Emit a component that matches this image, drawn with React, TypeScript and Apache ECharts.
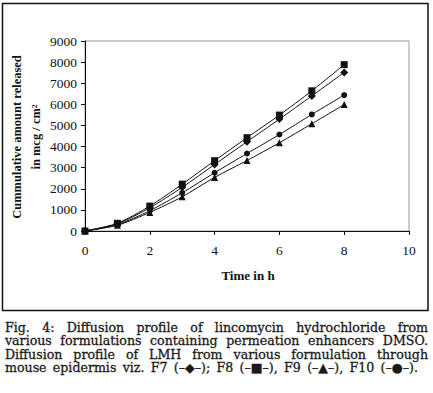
import React, { useEffect, useRef } from "react";
import * as echarts from "echarts";

const hours = [0, 1, 2, 3, 4, 5, 6, 7, 8];
const f7 = [0, 340, 1100, 2070, 3150, 4230, 5300, 6400, 7510];
const f8 = [0, 365, 1180, 2220, 3330, 4420, 5490, 6640, 7880];
const f9 = [0, 270, 880, 1620, 2540, 3340, 4180, 5080, 5990];
const f10 = [0, 300, 960, 1810, 2760, 3670, 4570, 5520, 6440];

const captionLines = [
  "Fig. 4: Diffusion profile of lincomycin hydrochloride from",
  "various formulations containing permeation enhancers DMSO.",
  "Diffusion profile of LMH from various formulation through",
  "mouse epidermis viz. F7 (\u2013\u25c6\u2013); F8 (\u2013\u25a0\u2013), F9 (\u2013\u25b2\u2013), F10 (\u2013\u25cf\u2013).",
];

const CAP_FONT = '"DejaVu Serif"';
const CAP_SIZE = 12.6;

function buildCaption(): any[] {
  const canvas = document.createElement("canvas");
  const ctx = canvas.getContext("2d")!;
  const out: any[] = [];
  const left = 5;
  const ys = [327, 340.5, 354, 367.5];
  const rights = [428, 428, 428, 418];
  captionLines.forEach((line, i) => {
    const words = line.split(" ");
    let size = CAP_SIZE;
    ctx.font = `${size}px ${CAP_FONT}`;
    let widths = words.map((w) => ctx.measureText(w).width);
    let total = widths.reduce((a, b) => a + b, 0);
    const avail = rights[i] - left;
    const minGap = 3;
    if (total + minGap * (words.length - 1) > avail) {
      size = (size * (avail - minGap * (words.length - 1))) / total;
      ctx.font = `${size}px ${CAP_FONT}`;
      widths = words.map((w) => ctx.measureText(w).width);
      total = widths.reduce((a, b) => a + b, 0);
    }
    const gap = (avail - total) / (words.length - 1);
    let x = left;
    words.forEach((w, j) => {
      out.push({
        type: "text",
        x,
        y: ys[i],
        style: {
          text: w,
          fontFamily: CAP_FONT,
          fontSize: size,
          fill: "#1a1a1a",
          stroke: "#1a1a1a",
          lineWidth: 0.3,
          textVerticalAlign: "middle",
          textAlign: "left",
        },
      });
      x += widths[j] + gap;
    });
  });
  return out;
}

function mk(name: string, data: number[], symbol: string, size: number) {
  return {
    name,
    type: "line",
    data: hours.map((h, i) => [h, data[i]]),
    smooth: 0.25,
    symbol,
    symbolSize: size,
    lineStyle: { color: "#111", width: 1 },
    itemStyle: { color: "#111" },
  };
}

export default function App() {
  const ref = useRef<HTMLDivElement>(null);
  useEffect(() => {
    document.body.style.margin = "0";
    const chart = echarts.init(ref.current!, null, { renderer: "svg" });
    const axisFont = { fontFamily: '"Liberation Serif"', fontSize: 13.5, color: "#111" };
    const titleStyle = {
      fontFamily: '"Liberation Serif"',
      fontWeight: "bold",
      fontSize: 12.5,
      fill: "#111",
      textAlign: "center",
      textVerticalAlign: "middle",
    };
    chart.setOption({
      animation: false,
      backgroundColor: "#fff",
      grid: {
        left: 85,
        right: 24,
        top: 41,
        bottom: 162,
        show: true,
        borderColor: "#999",
        borderWidth: 1,
      },
      xAxis: {
        type: "value",
        min: 0,
        max: 10,
        interval: 2,
        axisLine: { lineStyle: { color: "#111", width: 1 } },
        axisTick: { show: true, length: 4, lineStyle: { color: "#111" } },
        splitLine: { show: false },
        axisLabel: { ...axisFont, margin: 12, formatter: (v: number) => String(v) },
      },
      yAxis: {
        type: "value",
        min: 0,
        max: 9000,
        interval: 1000,
        axisLine: { show: true, lineStyle: { color: "#111", width: 1 } },
        axisTick: { show: true, length: 4, lineStyle: { color: "#111" } },
        splitLine: { show: false },
        axisLabel: { ...axisFont, margin: 8, formatter: (v: number) => String(v) },
      },
      series: [
        mk("F7", f7, "diamond", 8),
        mk("F8", f8, "rect", 7),
        mk("F9", f9, "triangle", 7),
        mk("F10", f10, "circle", 6),
      ],
      graphic: [
        {
          type: "rect",
          shape: { x: 2.5, y: 3.5, width: 425.5, height: 307 },
          style: { fill: "none", stroke: "#111", lineWidth: 1.5 },
          silent: true,
        },
        {
          type: "text",
          x: 17,
          y: 137,
          rotation: Math.PI / 2,
          style: { ...titleStyle, text: "Cummulative amount released" },
        },
        {
          type: "text",
          x: 36,
          y: 137,
          rotation: Math.PI / 2,
          style: { ...titleStyle, text: "in mcg / cm\u00b2" },
        },
        {
          type: "text",
          x: 248,
          y: 275,
          style: { ...titleStyle, fontSize: 13, text: "Time in h" },
        },
        ...buildCaption(),
      ],
    });
    return () => chart.dispose();
  }, []);
  return <div ref={ref} style={{ width: 433, height: 393 }} />;
}
